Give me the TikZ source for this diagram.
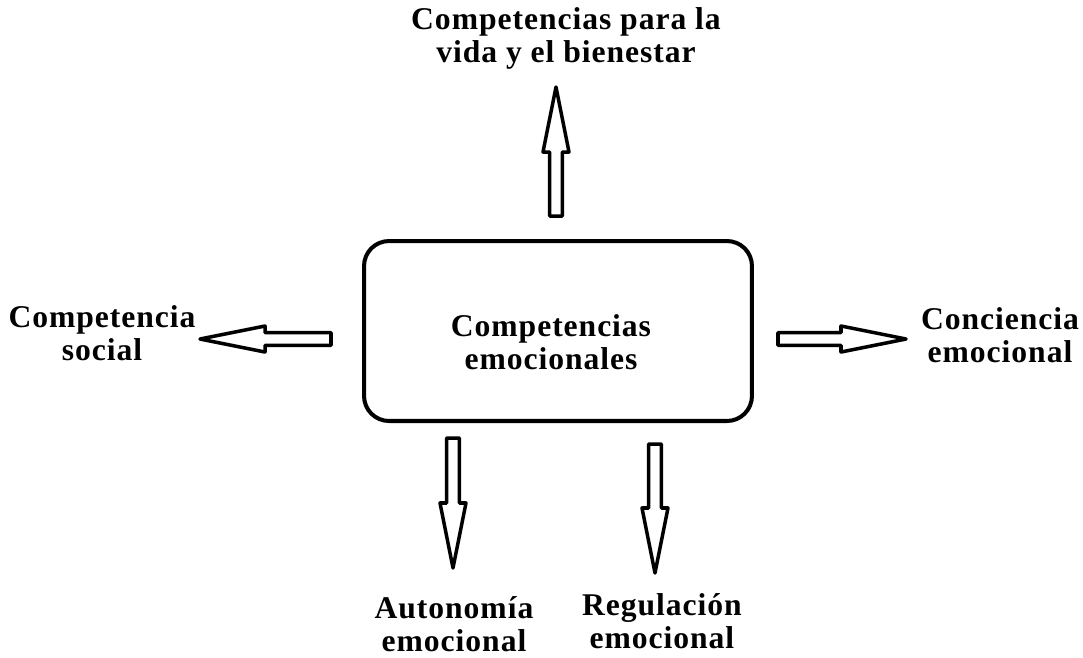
\documentclass[tikz,border=0pt]{standalone}
\usepackage{fontspec}
\setmainfont{Liberation Serif}[LetterSpace=3]
\usetikzlibrary{calc}

% hollow block arrow from tail #1 to tip #2
\newcommand{\hollowarrow}[2]{%
 \coordinate (hb) at ($(#2)!37pt!(#1)$);
 \draw[blockarrow] ($(#1)!3.6pt!90:(#2)$) -- ($(hb)!3.6pt!90:(#2)$)
  -- ($(hb)!7.4pt!90:(#2)$) -- (#2) -- ($(hb)!7.4pt!-90:(#2)$)
  -- ($(hb)!3.6pt!-90:(#2)$) -- ($(#1)!3.6pt!-90:(#2)$) -- cycle;}

\begin{document}
\begin{tikzpicture}[x=0.02cm,y=-0.02cm,
 mainbox/.style={draw,line width=2.3pt,rounded corners=0.5cm,minimum width=7.76cm,minimum height=3.6cm},
 lbl/.style={align=center,inner sep=0pt,font=\fontsize{18}{18.8}\selectfont\bfseries},
 blockarrow/.style={line width=2pt,line join=round}]
 \useasboundingbox (0,0) rectangle (1083,657);

 \node[mainbox] (emo) at (558,331) {};
 \node[lbl] (emotxt) at (551,342) {Competencias\\emocionales};

 \node[lbl] (vida) at (566,38) {Competencias para la\\vida y el bienestar};
 \node[lbl] (social) at (102,333) {Competencia\\social};
 \node[lbl] (conciencia) at (1000,335) {Conciencia\\emocional};
 \node[lbl] (autonomia) at (454,624) {Autonomía\\emocional};
 \node[lbl] (regulacion) at (662,621) {Regulación\\emocional};

 % arrow ends
 \coordinate (up_t) at (556,216);   \coordinate (up_h) at (556,87);
 \coordinate (left_t) at (331,339); \coordinate (left_h) at (200,339);
 \coordinate (right_t) at (778,339);\coordinate (right_h) at (906,339);
 \coordinate (aut_t) at (453,438);  \coordinate (aut_h) at (453,568);
 \coordinate (reg_t) at (655,444);  \coordinate (reg_h) at (655,573);

 \hollowarrow{up_t}{up_h}
 \hollowarrow{left_t}{left_h}
 \hollowarrow{right_t}{right_h}
 \hollowarrow{aut_t}{aut_h}
 \hollowarrow{reg_t}{reg_h}
\end{tikzpicture}
\end{document}
